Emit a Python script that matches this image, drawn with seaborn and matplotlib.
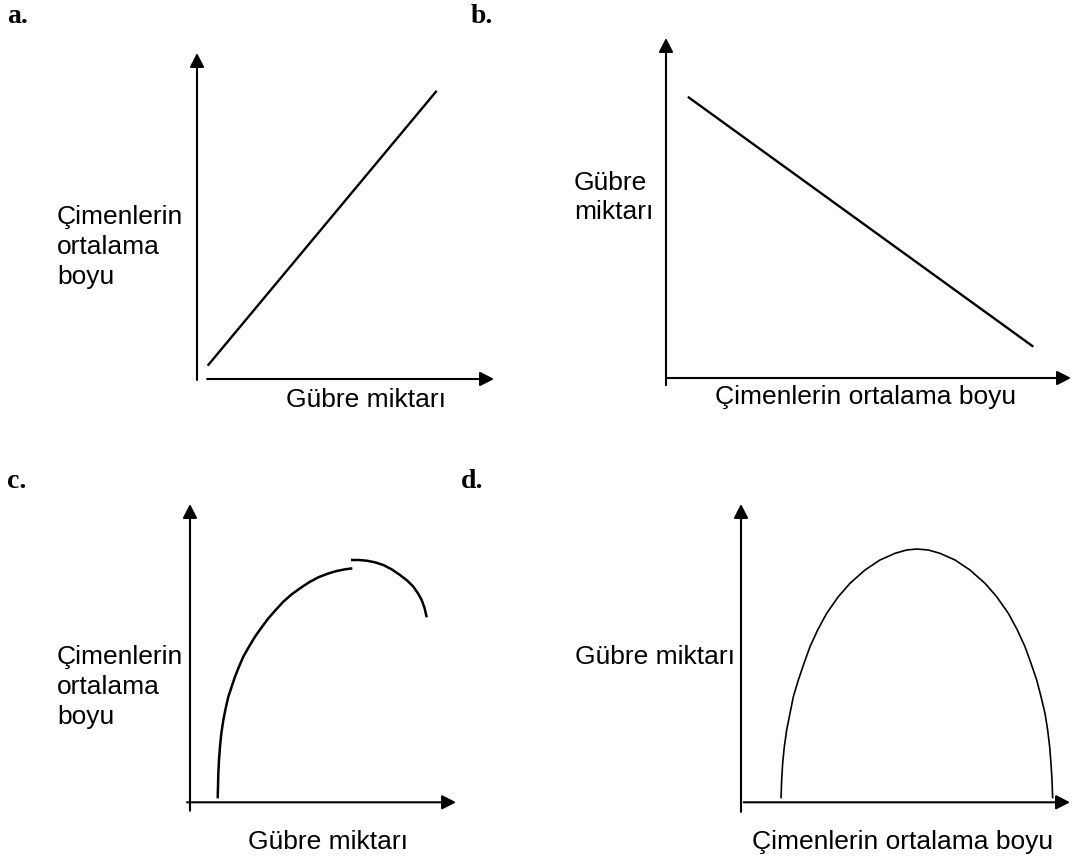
import matplotlib
matplotlib.use("Agg")
import matplotlib.pyplot as plt
import seaborn as sns

# ---- data (panel units 0-100 from the axis origin) ----
a_x = [3.6, 80.7]
a_y = [4.1, 88.4]

b_x = [5.4, 90.7]
b_y = [82.7, 9.2]

c1_x = [10.40, 10.53, 10.65, 10.90, 11.28, 11.78, 12.53, 13.41, 14.41, 15.66, 16.92, 18.42,
        20.05, 22.18, 24.44, 26.94, 29.45, 32.21, 35.09, 38.22, 41.35, 44.74, 48.25, 51.75,
        55.14, 58.27, 61.03]
c1_y = [1.33, 5.24, 9.71, 14.18, 18.65, 23.12, 27.59, 31.50, 35.41, 38.76, 42.12, 45.47,
        48.82, 52.17, 55.53, 58.66, 61.67, 64.47, 67.26, 69.72, 71.73, 73.74, 75.42, 76.64,
        77.54, 78.10, 78.43]
c2_x = [60.53, 63.53, 66.42, 69.55, 72.68, 75.81, 78.95, 81.70, 83.96, 85.71, 87.09, 88.22, 88.97]
c2_y = [81.23, 81.23, 81.00, 80.45, 79.55, 78.10, 76.20, 74.30, 72.29, 70.05, 67.82, 65.02, 62.01]

d_x = [12.16, 12.36, 12.66, 13.17, 13.88, 14.89, 15.91, 17.43, 19.15, 20.97, 23.30, 26.04,
       29.58, 33.13, 37.69, 42.25, 46.81, 50.35, 53.39, 56.94, 60.49, 65.05, 69.60, 74.16,
       77.71, 81.26, 83.99, 86.32, 88.15, 89.87, 91.19, 92.40, 93.21, 93.82, 94.22, 94.53, 94.73]
d_y = [1.33, 7.48, 13.06, 18.65, 24.24, 29.82, 35.41, 41.00, 46.59, 52.17, 57.76, 63.35,
       68.93, 73.41, 77.87, 81.23, 83.46, 84.58, 84.91, 84.58, 83.46, 81.23, 77.87, 73.41,
       68.93, 63.35, 57.76, 52.17, 46.59, 41.00, 35.41, 29.82, 24.24, 18.65, 13.06, 7.48, 1.33]

panel_letters = ["a.", "b.", "c.", "d."]
lbl_height = "Çimenlerin\nortalama\nboyu"
lbl_height_1line = "Çimenlerin ortalama boyu"
lbl_fert = "Gübre miktarı"
lbl_fert_2line = "Gübre\nmiktarı"

# ---- figure ----
sns.set_theme(style="white")
plt.rcParams["font.family"] = ["Liberation Sans", "DejaVu Sans"]
plt.rcParams["text.color"] = "black"

W, H = 1072, 861
fig = plt.figure(figsize=(W / 100, H / 100), dpi=100)
fig.patch.set_facecolor("white")


def make_ax(ox, oy, xtip, ytip):
    ax = fig.add_axes([ox / W, (H - oy) / H, (xtip - ox) / W, (oy - ytip) / H])
    ax.set_xlim(0, 100)
    ax.set_ylim(0, 100)
    ax.set_axis_off()
    return ax


def axis_arrows(ax, x_start, y_start):
    style = dict(arrowstyle="-|>,head_length=0.7,head_width=0.36", color="black",
                 lw=1.5, shrinkA=0, shrinkB=0, mutation_scale=12)
    ax.annotate("", xy=(100, 0), xytext=(x_start, 0), arrowprops=style, annotation_clip=False)
    ax.annotate("", xy=(0, 100), xytext=(0, y_start), arrowprops=style, annotation_clip=False)


def ftext(x, y, s, **kw):
    fig.text(x / W, 1 - y / H, s, color="black", **kw)


FS = 19
line_kw = dict(color="black", sort=False, estimator=None, solid_joinstyle="round",
               solid_capstyle="butt")

# panel a
ax_a = make_ax(197, 379, 494, 53)
axis_arrows(ax_a, 3.4, -0.3)
sns.lineplot(x=a_x, y=a_y, ax=ax_a, lw=1.7, **line_kw)

# panel b
ax_b = make_ax(666, 378, 1071, 38)
axis_arrows(ax_b, 0, -2.1)
sns.lineplot(x=b_x, y=b_y, ax=ax_b, lw=1.7, **line_kw)

# panel c
ax_c = make_ax(190, 802.3, 456, 504)
axis_arrows(ax_c, -1.1, -2.8)
sns.lineplot(x=c1_x, y=c1_y, ax=ax_c, lw=1.8, **line_kw)
sns.lineplot(x=c2_x, y=c2_y, ax=ax_c, lw=1.8, **line_kw)

# panel d
ax_d = make_ax(741, 802.3, 1070, 504)
axis_arrows(ax_d, 0.8, -3.2)
sns.lineplot(x=d_x, y=d_y, ax=ax_d, lw=1.2, **line_kw)

# panel letters
serif = dict(family=["Liberation Serif", "DejaVu Serif"], fontweight="bold", fontsize=20,
             va="baseline", ha="left")
ftext(7, 23, panel_letters[0], **serif)
ftext(471, 23, panel_letters[1], **serif)
ftext(7, 488, panel_letters[2], **serif)
ftext(461, 488, panel_letters[3], **serif)

# axis labels
ftext(57, 247, lbl_height, fontsize=FS, ha="left", va="center", linespacing=1.3)
ftext(365.5, 400, lbl_fert, fontsize=FS, ha="center", va="center")

ftext(574, 197.5, lbl_fert_2line, fontsize=FS, ha="left", va="center", linespacing=1.3)
ftext(866, 397, lbl_height_1line, fontsize=FS, ha="center", va="center")

ftext(57, 687, lbl_height, fontsize=FS, ha="left", va="center", linespacing=1.3)
ftext(328, 841.7, lbl_fert, fontsize=FS, ha="center", va="center")

ftext(575, 656.7, lbl_fert, fontsize=FS, ha="left", va="center")
ftext(903, 841.7, lbl_height_1line, fontsize=FS, ha="center", va="center")

fig.savefig("out.png", dpi=100, facecolor="white")
